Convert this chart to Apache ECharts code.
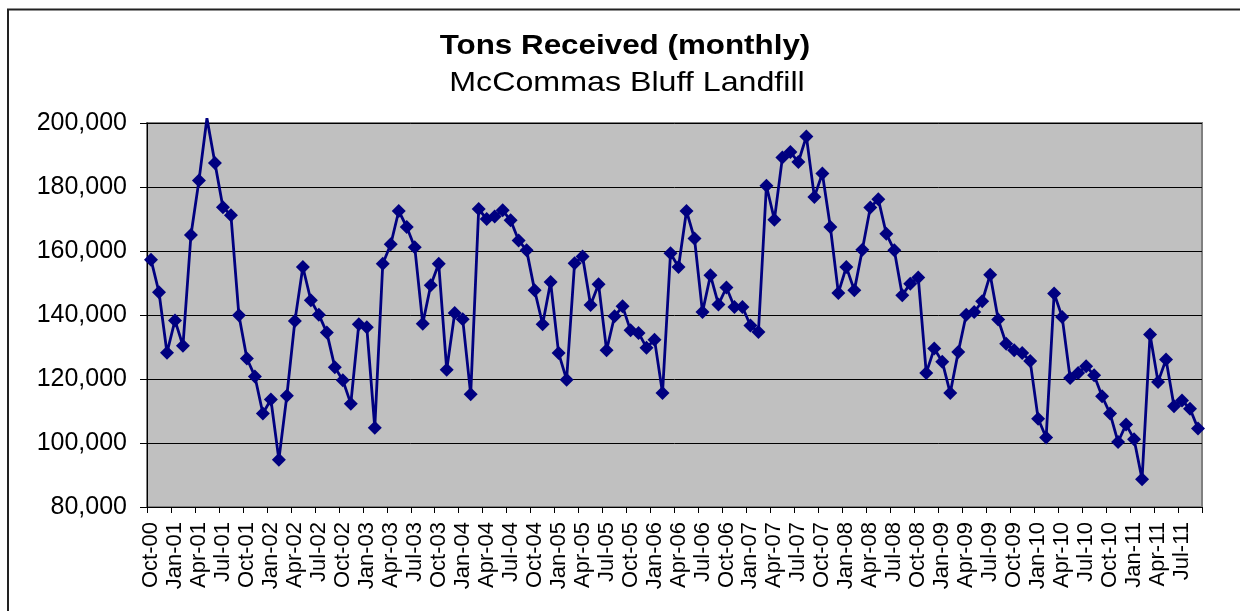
<!DOCTYPE html>
<html>
<head>
<meta charset="utf-8">
<script src="https://cdn.jsdelivr.net/npm/echarts@6/dist/echarts.min.js"></script>
<style>
html,body{margin:0;padding:0;background:#fff;}
#chart{width:1240px;height:611px;}
</style>
</head>
<body>
<div id="chart"></div>
<script>
// Data (monthly tons received, Oct-2000 .. Sep-2011)
const titleText = "Tons Received (monthly)";
const subtitleText = "McCommas Bluff Landfill";
const monthNames = ["Jan","Feb","Mar","Apr","May","Jun","Jul","Aug","Sep","Oct","Nov","Dec"];
const startYear = 2000, startMonth = 9; // Oct-00
const tonsReceived = [
  157300, 147100, 128200,
  138300, 130400, 165000, 182000, 201500, 187500, 173700, 171200, 139900, 126400, 120800, 109200,
  113600, 94800, 114800, 138100, 155000, 144600, 140100, 134500, 123700, 119600, 112300, 137100,
  136200, 104800, 156000, 162100, 172500, 167500, 161200, 137300, 149300, 156000, 122900, 140600,
  138700, 115200, 173100, 170000, 170800, 172700, 169600, 163300, 160200, 147700, 137100, 150300,
  128100, 119800, 156200, 158300, 143100, 149600, 129000, 139600, 142700, 135200, 134400, 129800,
  132300, 115600, 159300, 155000, 172500, 163900, 140900, 152400, 143300, 148600, 142500, 142500,
  136700, 134700, 180400, 169800, 189200, 190900, 187800, 195800, 176900, 184200, 167500, 146900,
  155000, 147700, 160400, 173600, 176200, 165400, 160200, 146200, 149800, 151700, 121900, 129500,
  125400, 115600, 128400, 140100, 140900, 144300, 152600, 138600, 131000, 129000, 128100, 125600,
  107600, 101700, 146700, 139400, 120300, 121900, 124000, 121200, 114600, 109200, 100300, 105800,
  101200, 88700, 133900, 119100, 126100, 111500, 113300, 110700, 104500
];
const yMin = 80000, yMax = 200000, yStep = 20000;

const categories = tonsReceived.map((_, i) => {
  const m = (startMonth + i) % 12;
  const y = startYear + Math.floor((startMonth + i) / 12);
  return monthNames[m] + "-" + String(y % 100).padStart(2, "0");
});

const seriesData = tonsReceived.map(v => v > yMax ? {value: v, symbol: 'none'} : v);

const chart = echarts.init(document.getElementById('chart'), null, {renderer: 'canvas'});
const FONT = '"Liberation Sans", Arial, Helvetica, sans-serif';

chart.setOption({
  backgroundColor: '#ffffff',
  animation: false,
  graphic: [
    {type: 'rect', left: 5.5, top: 7, silent: true, z: 0,
     shape: {width: 1300, height: 700},
     style: {fill: 'none', stroke: '#222', lineWidth: 2}},
    {type: 'text', x: 625, y: 46, scaleX: 1.12, z: 10,
     style: {text: titleText, fill: '#000', font: 'bold 28px ' + FONT, textAlign: 'center', textVerticalAlign: 'middle'}},
    {type: 'text', x: 627, y: 83, scaleX: 1.15, z: 10,
     style: {text: subtitleText, fill: '#000', font: '28px ' + FONT, textAlign: 'center', textVerticalAlign: 'middle'}}
  ],
  grid: {
    left: 147, right: 38, top: 123, bottom: 104,
    show: true, backgroundColor: '#C0C0C0', borderColor: '#808080', borderWidth: 2
  },
  xAxis: {
    type: 'category',
    data: categories,
    boundaryGap: true,
    axisLine: {show: true, lineStyle: {color: '#000', width: 1}},
    axisTick: {show: true, interval: 2, length: 6, lineStyle: {color: '#000'}},
    axisLabel: {interval: 2, rotate: 90, margin: 15, color: '#000', fontSize: 22, fontFamily: FONT},
    splitLine: {show: false}
  },
  yAxis: {
    type: 'value',
    min: yMin, max: yMax, interval: yStep,
    axisLine: {show: true, lineStyle: {color: '#000', width: 1}},
    axisTick: {show: true, length: 7, lineStyle: {color: '#000'}},
    axisLabel: {
      margin: 20, color: '#000', fontSize: 25, fontFamily: FONT,
      formatter: v => v.toLocaleString('en-US')
    },
    splitLine: {show: true, lineStyle: {color: '#000', width: 1}}
  },
  series: [{
    type: 'line',
    data: seriesData,
    clip: false,
    symbol: 'diamond',
    symbolSize: 14,
    showAllSymbol: true,
    itemStyle: {color: '#000080'},
    lineStyle: {color: '#000080', width: 2.8}
  }]
});
</script>
</body>
</html>
